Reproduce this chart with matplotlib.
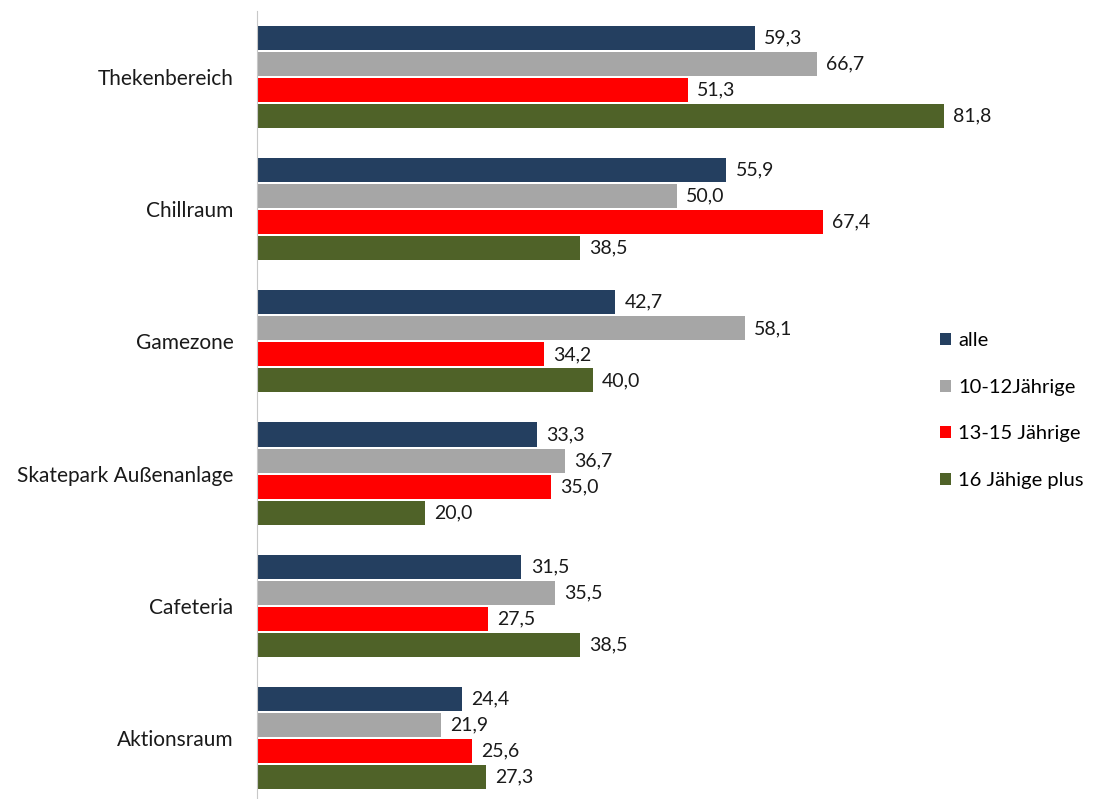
import matplotlib.pyplot as plt
import numpy as np

plt.rcParams['font.family'] = ['Lato', 'DejaVu Sans']

categories = ["Thekenbereich", "Chillraum", "Gamezone", "Skatepark Außenanlage",
              "Cafeteria", "Aktionsraum"]
series_names = ["alle", "10-12Jährige", "13-15 Jährige", "16 Jähige plus"]
alle = [59.3, 55.9, 42.7, 33.3, 31.5, 24.4]
j10_12 = [66.7, 50.0, 58.1, 36.7, 35.5, 21.9]
j13_15 = [51.3, 67.4, 34.2, 35.0, 27.5, 25.6]
j16_plus = [81.8, 38.5, 40.0, 20.0, 38.5, 27.3]
colors = ["#243F60", "#A6A6A6", "#FF0000", "#4F6228"]

fig = plt.figure(figsize=(10.95, 7.99), dpi=100)
ax = fig.add_axes([0.2347, -0.0063, 0.69, 0.9926])

y = np.arange(len(categories))
step = 0.197
for i, (vals, name, c) in enumerate(zip([alle, j10_12, j13_15, j16_plus], series_names, colors)):
    pos = y + (i - 1.5) * step
    ax.barh(pos, vals, height=0.182, color=c, label=name)
    for p, v in zip(pos, vals):
        ax.text(v + 1.1, p, f"{v:.1f}".replace(".", ","), va="center", ha="left",
                fontsize=14, color="#1a1a1a")

ax.set_ylim(len(categories) - 0.5, -0.5)
ax.set_xlim(0, 90)
ax.set_yticks(y)
ax.set_yticklabels(categories, fontsize=15, color="#1a1a1a")
ax.tick_params(axis="y", length=0, pad=17)
ax.set_xticks([])
for s in ["top", "right", "bottom"]:
    ax.spines[s].set_visible(False)
ax.spines["left"].set_color("#C8C8C8")

fig.legend(loc="upper left", bbox_to_anchor=(0.842, 0.607), frameon=False, fontsize=14.5,
           handlelength=0.55, handleheight=0.55, handletextpad=0.35, labelspacing=1.47)

plt.savefig("out.png", dpi=100)
